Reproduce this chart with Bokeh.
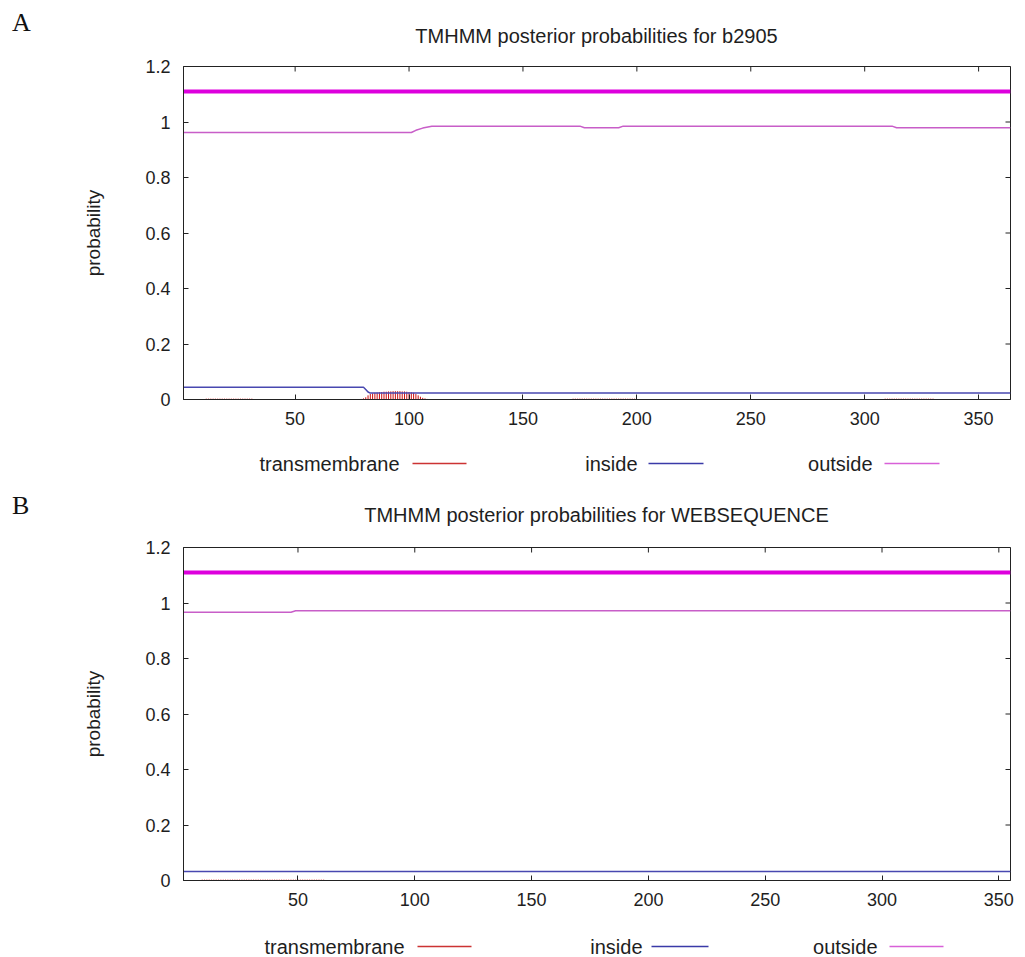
import math
from bokeh.plotting import figure
from bokeh.models import Range1d, FixedTicker, CustomJSTickFormatter, Div
from bokeh.layouts import column
from bokeh.embed import file_html
from bokeh.resources import INLINE
from bokeh.core.properties import value

FONT = "Liberation Sans"
TEXT_COLOR = "#1e1e1e"

# ---------------- data: panel A (b2905, 364 residues) ----------------
A_letter = "A"
A_title = "TMHMM posterior probabilities for b2905"
A_length = 364
A_outside_x = [1, 101, 103, 106, 110, 175, 177, 192, 194, 312, 314, 364]
A_outside_y = [0.962, 0.962, 0.970, 0.978, 0.985, 0.985, 0.979, 0.979, 0.985, 0.985, 0.979, 0.979]
A_inside_x = [1, 80, 81, 82, 83, 364]
A_inside_y = [0.044, 0.044, 0.036, 0.027, 0.023, 0.023]
A_tm_res = [11, 12, 13, 14, 15, 16, 17, 18, 19, 20, 21, 22, 23, 24, 25, 26, 27, 28, 29, 30, 31,
            79, 80, 81, 82, 83, 84, 85, 86, 87, 88, 89, 90, 91, 92, 93, 94, 95, 96, 97, 98, 99,
            100, 101, 102, 103, 104, 105, 106, 107, 108,
            172, 173, 174, 175, 176, 177, 178, 179, 180, 181, 182, 183, 184, 185, 186, 187, 188,
            189, 190, 191, 192, 193, 194, 195, 196, 197, 198, 199,
            309, 310, 311, 312, 313, 314, 315, 316, 317, 318, 319, 320, 321, 322, 323, 324, 325,
            326, 327, 328, 329, 330]
A_tm_val = [0.003, 0.003, 0.003, 0.003, 0.003, 0.003, 0.003, 0.003, 0.003, 0.003, 0.003,
            0.003, 0.003, 0.003, 0.003, 0.003, 0.003, 0.003, 0.003, 0.003, 0.003,
            0.002, 0.004, 0.008, 0.015, 0.020, 0.022, 0.024, 0.025, 0.026, 0.027, 0.028,
            0.028, 0.029, 0.029, 0.030, 0.030, 0.030, 0.030, 0.029, 0.029, 0.028, 0.027,
            0.026, 0.024, 0.020, 0.015, 0.010, 0.006, 0.004, 0.002,
            0.003, 0.003, 0.003, 0.003, 0.003, 0.003, 0.003, 0.003, 0.003, 0.003, 0.003,
            0.003, 0.003, 0.003, 0.003, 0.003, 0.003, 0.003, 0.003, 0.003, 0.003, 0.003,
            0.003, 0.003, 0.003, 0.003, 0.003, 0.003,
            0.003, 0.003, 0.003, 0.003, 0.003, 0.003, 0.003, 0.003, 0.003, 0.003, 0.003,
            0.003, 0.003, 0.003, 0.003, 0.003, 0.003, 0.003, 0.003, 0.003, 0.003, 0.003]
A_topology_start = [1]
A_topology_end = [364]
A_topology_y = [1.11]

# ---------------- data: panel B (WEBSEQUENCE, 355 residues) ----------------
B_letter = "B"
B_title = "TMHMM posterior probabilities for WEBSEQUENCE"
B_length = 355
B_outside_x = [1, 47, 49, 355]
B_outside_y = [0.967, 0.967, 0.972, 0.972]
B_inside_x = [1, 355]
B_inside_y = [0.032, 0.032]
B_tm_res = [9, 10, 11, 12, 13, 14, 15, 16, 17, 18, 19, 20, 21, 22, 23, 24, 25, 26, 27, 28, 29,
            30, 31, 32, 33, 34, 35, 36, 37, 38, 39, 40, 41, 42, 43, 44, 45, 46, 47, 48, 49, 50,
            51, 52, 53, 54, 55, 56, 57, 58, 59, 60, 61]
B_tm_val = [0.003, 0.003, 0.003, 0.003, 0.003, 0.003, 0.003, 0.003, 0.003, 0.003, 0.003,
            0.003, 0.003, 0.003, 0.003, 0.003, 0.003, 0.003, 0.003, 0.003, 0.003, 0.003,
            0.003, 0.003, 0.003, 0.003, 0.003, 0.003, 0.003, 0.003, 0.003, 0.003, 0.003,
            0.003, 0.003, 0.003, 0.003, 0.003, 0.003, 0.003, 0.003, 0.003, 0.003, 0.003,
            0.003, 0.003, 0.003, 0.003, 0.003, 0.003, 0.003, 0.003, 0.003]
B_topology_start = [1]
B_topology_end = [355]
B_topology_y = [1.11]

x_ticks = [50, 100, 150, 200, 250, 300, 350]
y_ticks = [0, 0.2, 0.4, 0.6, 0.8, 1, 1.2]
y_label = "probability"

legend_labels = ["transmembrane", "inside", "outside"]
legend_colors = ["#cc3333", "#3a3aa8", "#d860d8"]

TM_COLOR = "#cc1111"
INSIDE_COLOR = "#4848b0"
OUTSIDE_COLOR = "#c85ec8"
TOPO_COLOR = "#dd00dd"
AXIS_COLOR = "#222222"

# shared horizontal frame geometry (column aligns plot frames)
LEFT, RIGHT, FRAME_W = 183, 15, 827
FRAME_H = 333


def header(letter, title, height, letter_top, title_top):
    html = (
        f'<div style="position:relative;width:1025px;height:{height}px;margin:0;padding:0;">'
        f'<span style="position:absolute;left:12px;top:{letter_top}px;'
        f'font-family:\'Liberation Serif\';font-size:26px;line-height:26px;color:#111;">{letter}</span>'
        f'<span style="position:absolute;left:{LEFT}px;width:{FRAME_W}px;top:{title_top}px;'
        f'text-align:center;font-family:\'{FONT}\';font-size:20px;line-height:20px;'
        f'color:{TEXT_COLOR};white-space:nowrap;">{title}</span></div>'
    )
    return Div(text=html, width=1025, height=height, margin=0)


def panel(length, ox, oy, ix, iy, tr, tv, ts, te, ty, top, bottom):
    p = figure(width=LEFT + FRAME_W + RIGHT, height=top + FRAME_H + bottom,
               frame_width=FRAME_W, frame_height=FRAME_H,
               x_range=Range1d(1, length), y_range=Range1d(0, 1.2),
               output_backend="svg", toolbar_location=None,
               min_border_left=LEFT, min_border_right=RIGHT,
               min_border_top=top, min_border_bottom=bottom)
    p.xgrid.visible = False
    p.ygrid.visible = False
    p.outline_line_color = AXIS_COLOR
    p.outline_line_width = 1

    # data
    p.segment(x0=tr, y0=[0] * len(tr), x1=tr, y1=tv, line_color=TM_COLOR, line_width=1)
    p.line(ix, iy, line_color=INSIDE_COLOR, line_width=1.5)
    p.line(ox, oy, line_color=OUTSIDE_COLOR, line_width=1.5)
    p.segment(x0=ts, y0=ty, x1=te, y1=ty, line_color=TOPO_COLOR, line_width=4)

    # mirrored inward ticks on the top and right edges (clipped half-dashes)
    p.scatter(x=x_ticks, y=[1.2] * len(x_ticks), marker="dash", size=10, angle=math.pi / 2,
              line_color=AXIS_COLOR, line_width=1)
    p.scatter(x=[length] * len(y_ticks), y=y_ticks, marker="dash", size=10,
              line_color=AXIS_COLOR, line_width=1)

    fmt = CustomJSTickFormatter(code="return String(Math.round(tick*10)/10)")
    p.xaxis.ticker = FixedTicker(ticks=x_ticks)
    p.yaxis.ticker = FixedTicker(ticks=y_ticks)
    p.yaxis.formatter = fmt
    p.yaxis.axis_label = y_label
    p.yaxis.axis_label_text_font = FONT
    p.yaxis.axis_label_text_font_size = "19px"
    p.yaxis.axis_label_text_font_style = "normal"
    p.yaxis.axis_label_text_color = TEXT_COLOR
    p.yaxis.axis_label_standoff = 38
    for ax in list(p.xaxis) + list(p.yaxis):
        ax.major_tick_in = 5
        ax.major_tick_out = 0
        ax.minor_tick_line_color = None
        ax.axis_line_color = AXIS_COLOR
        ax.major_tick_line_color = AXIS_COLOR
        ax.major_label_text_font = FONT
        ax.major_label_text_font_size = "18px"
        ax.major_label_text_color = TEXT_COLOR
    p.xaxis.major_label_standoff = 12
    p.yaxis.major_label_standoff = 13
    return p


def legend_strip(height, text_right, line_start, line_end, ymid):
    q = figure(width=1025, height=height, x_range=Range1d(LEFT, LEFT + FRAME_W),
               y_range=Range1d(height, 0), frame_width=FRAME_W, frame_height=height,
               output_backend="svg", toolbar_location=None,
               min_border_left=LEFT, min_border_right=RIGHT, min_border_top=0, min_border_bottom=0)
    q.axis.visible = False
    q.grid.visible = False
    q.outline_line_color = None
    q.text(x=text_right, y=[ymid] * 3, text=legend_labels, text_align="right",
           text_baseline="middle", text_font=value(FONT), text_font_size="20px",
           text_color=TEXT_COLOR)
    q.segment(x0=line_start, y0=[ymid] * 3, x1=line_end, y1=[ymid] * 3,
              line_color=legend_colors, line_width=1.5)
    return q


hA = header(A_letter, A_title, 56, 10, 26)
pA = panel(A_length, A_outside_x, A_outside_y, A_inside_x, A_inside_y,
           A_tm_res, A_tm_val, A_topology_start, A_topology_end, A_topology_y, top=10, bottom=41)
legA = legend_strip(40, [399, 637, 872], [412, 648, 884], [466, 703, 939], 23)
hB = header(B_letter, B_title, 57, 13, 25)
pB = panel(B_length, B_outside_x, B_outside_y, B_inside_x, B_inside_y,
           B_tm_res, B_tm_val, B_topology_start, B_topology_end, B_topology_y, top=10, bottom=41)
legB = legend_strip(36, [404, 642, 877], [417, 651, 889], [471, 708, 943], 25)

layout = column(hA, pA, legA, hB, pB, legB, spacing=0)
open("out.html", "w").write(file_html(layout, INLINE))
